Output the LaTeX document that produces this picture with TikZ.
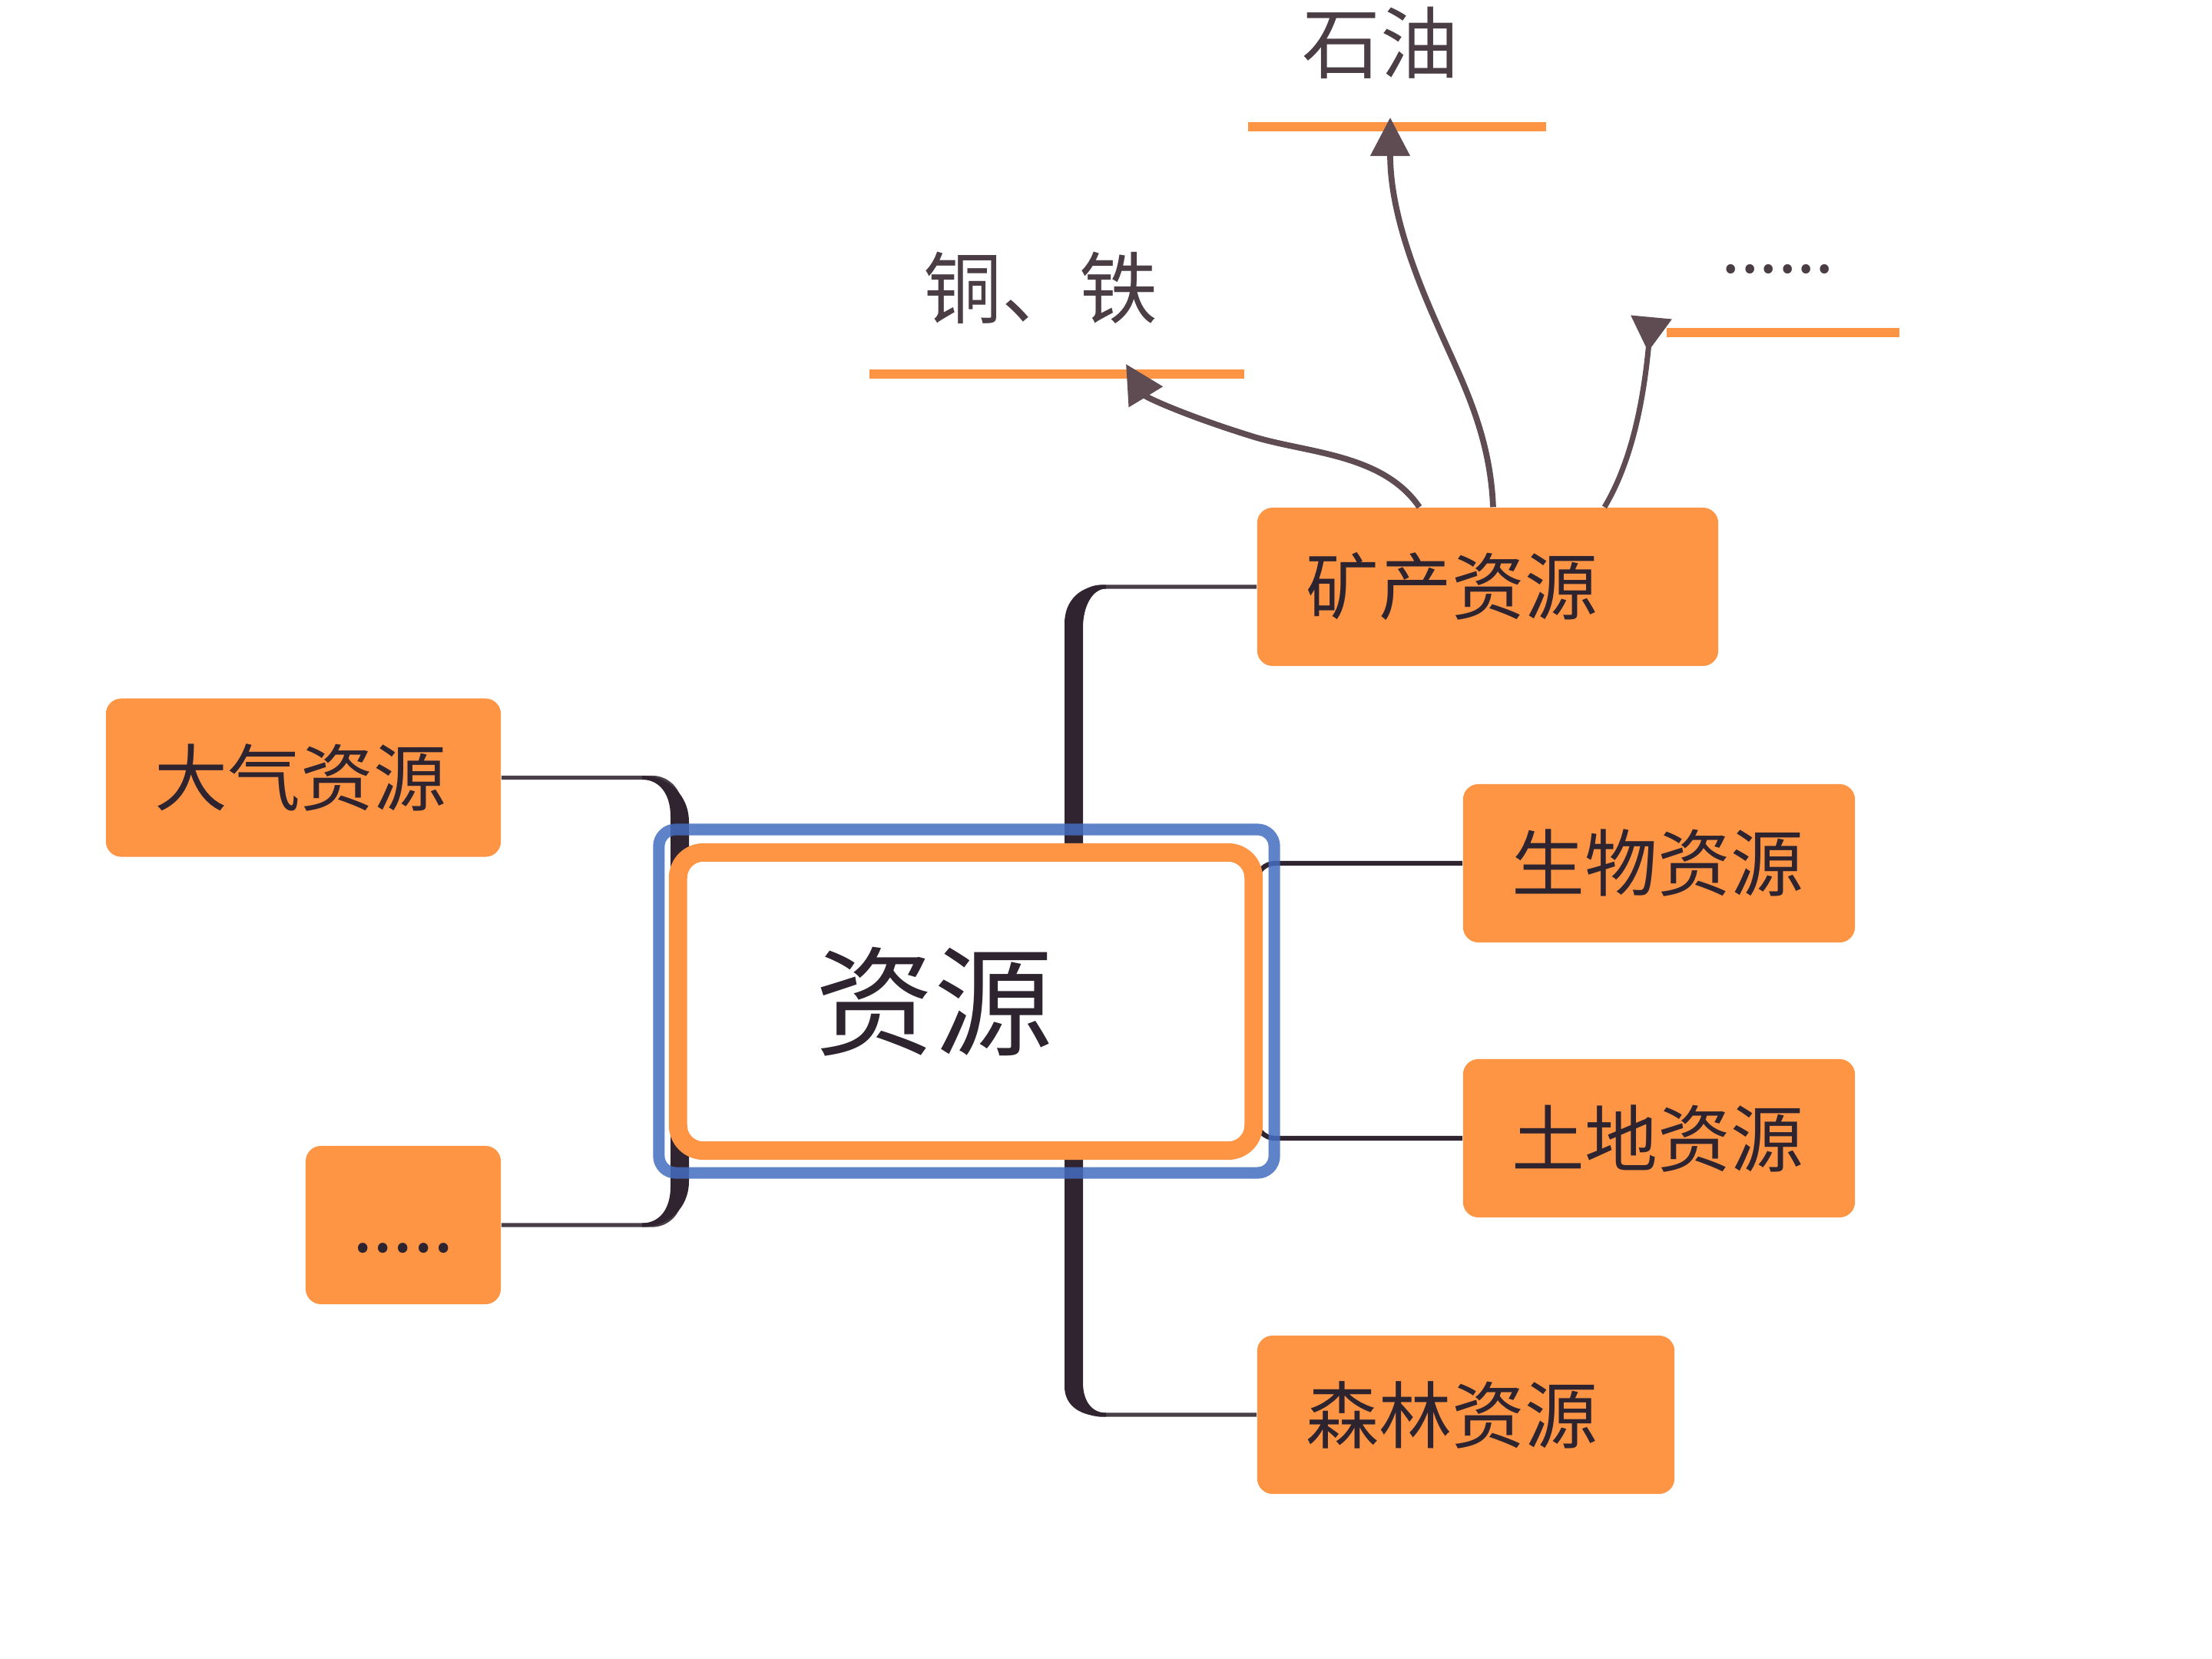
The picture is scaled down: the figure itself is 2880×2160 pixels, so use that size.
\documentclass[tikz,border=0pt]{standalone}
\usepackage{fontspec}
\newfontfamily\cjk{Noto Sans CJK SC}
\usetikzlibrary{arrows.meta,calc}
\definecolor{topicorange}{RGB}{254,149,69}
\definecolor{selblue}{RGB}{68,110,192}
\definecolor{darkline}{RGB}{48,36,48}
\definecolor{thinline}{RGB}{72,62,72}
\definecolor{arrowcol}{RGB}{94,76,82}
\definecolor{textdark}{RGB}{46,36,48}
\definecolor{labelcol}{RGB}{74,62,68}
\begin{document}
\begin{tikzpicture}[x=0.01cm,y=-0.01cm,
  topic/.style={fill=topicorange, rounded corners=0.2cm, minimum height=2.06cm,
    inner xsep=0.64cm, inner ysep=0pt, align=left,
    font=\cjk\fontsize{27}{32}\selectfont, text=textdark},
  lbl/.style={font=\cjk\fontsize{29}{34}\selectfont, text=labelcol, inner sep=0pt},
  thinconn/.style={draw=thinline, line width=1.5pt},
  thickpart/.style={fill=darkline, draw=none},
  uline/.style={draw=topicorange, line width=3.6pt},
  arrowline/.style={draw=arrowcol, line width=2.2pt, -{Triangle[length=0.5cm, width=0.5cm]}},
  revarrow/.style={draw=arrowcol, line width=2pt, -{Triangle[reversed, length=0.45cm, width=0.52cm]}},
  selframe/.style={draw=selblue, draw opacity=0.85, line width=4.3pt, rounded corners=0.22cm}
]
\fill[white] (0,0) rectangle (2880,2160);
\useasboundingbox (0,0) rectangle (2880,2160);

% topic boxes
\node[topic, text width=4.72cm] (kc) at (1937,764) {矿产资源};
\node[topic, text width=3.82cm] (sw) at (2160,1124) {生物资源};
\node[topic, text width=3.82cm] (td) at (2160,1482) {土地资源};
\node[topic, text width=4.15cm] (sl) at (1908.5,1842) {森林资源};
\node[topic, text width=3.86cm] (dq) at (395,1012.5) {大气资源};
\node[topic, inner xsep=0pt, minimum width=2.54cm, align=center] (more) at (525,1595) {\vphantom{资}.....};

% sub-topic labels
\node[lbl] (shiyou) at (1797,56) {石油};
\node[lbl] (tongtie) at (1355,375) {铜、铁};
\node[lbl, font=\cjk\fontsize{25}{30}\selectfont, anchor=base] (etc) at (2315,355) {......};

% underlines
\coordinate (u1a) at (1625,165);  \coordinate (u1b) at (2013,165);
\coordinate (u2a) at (1132,487);  \coordinate (u2b) at (1620,487);
\coordinate (u3a) at (2170,433);  \coordinate (u3b) at (2473,433);
\draw[uline] (u1a) -- (u1b);
\draw[uline] (u2a) -- (u2b);
\draw[uline] (u3a) -- (u3b);

% arrow ends
\coordinate (t1) at (1466,474);
\coordinate (t2) at (1810,153);
\coordinate (t3) at (2150,413);

% left bracket
\draw[thinconn, rounded corners=0.36cm] (dq.east) -| (885,1300) |- (more.east);
\fill[thickpart] (836,1010) .. controls (871,1010) and (897,1036) .. (897,1070)
  -- (897,1538) .. controls (897,1572) and (871,1597.5) .. (836,1597.5)
  -- (836,1592.5) .. controls (858,1592.5) and (873,1575) .. (873,1545)
  -- (873,1063) .. controls (873,1033) and (858,1015) .. (836,1015) -- cycle;

% right tree
\draw[thinconn, rounded corners=0.36cm] (kc.west) -| (1398,1300) |- (sl.west);
\fill[thickpart] (1440,761.5) .. controls (1406,761.5) and (1386,782) .. (1386,812)
  -- (1386,1805) .. controls (1386,1830) and (1406,1844.5) .. (1440,1844.5)
  -- (1440,1839.5) .. controls (1422,1839.5) and (1410,1825) .. (1410,1800)
  -- (1410,817) .. controls (1410,790) and (1422,766.5) .. (1440,766.5) -- cycle;

% small right bracket
\draw[thinconn, draw=darkline, line width=1.8pt, rounded corners=0.24cm] (sw.west) -| (1636,1300) |- (td.west);

% root
\node[draw=topicorange, line width=6.8pt, fill=white, rounded corners=0.33cm,
  minimum height=3.88cm, inner ysep=0pt, inner xsep=1.79cm, text width=3.91cm, align=left,
  font=\cjk\fontsize{44}{50}\selectfont, text=textdark] (root) at (1257.5,1304) {资源};
\draw[selframe] ($(root.north west)+(-13,-18)$) rectangle ($(root.south east)+(15,17)$);

% arrows from 矿产资源
\draw[arrowline] ($(kc.north)+(-89,0)$) .. controls (1800,590) and (1700,590) .. (1630,568)
  .. controls (1540,540) and (1492,517) .. (t1);
\draw[arrowline] ($(kc.north)+(7,0)$) .. controls (1940,560) and (1900,490) .. (1870,420)
  .. controls (1830,330) and (1810,260) .. (t2);
\draw[revarrow] ($(kc.north)+(152,0)$) .. controls (2125,600) and (2140,520) .. (t3);
\end{tikzpicture}
\end{document}
